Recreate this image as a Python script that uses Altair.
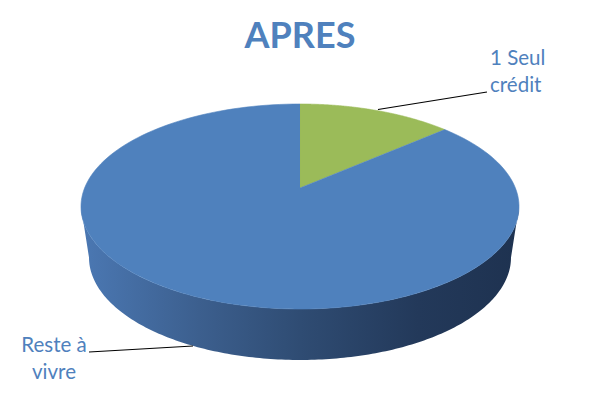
import altair as alt
import pandas as pd
import numpy as np

# ---- data ----
title_text = "APRES"
labels = ["1 Seul crédit", "Reste à vivre"]
values = [11.5, 88.5]
colors = ["#9BBB59", "#4F81BD"]

# ---- layout / style constants ----
W, H = 584, 384
RX, RY = 219, 102.5      # top ellipse radii (px)
RXB = 211                # bottom ellipse (perspective) radius
DEPTH = 51               # wall height (px)
VOFF = 18.5              # apex offset above ellipse centre
N = 180
TXT = "#4F81BD"
FONT = "Lato"

total = float(sum(values))
cum = np.cumsum([0.0] + values) / total
slices = pd.DataFrame({"label": labels, "start": cum[:-1], "end": cum[1:]})
steps = pd.DataFrame({"k": list(range(N + 2))})
poly = slices.merge(steps, how="cross")

xsc = alt.Scale(domain=[-292, 292], range=[0, W])
ysc = alt.Scale(domain=[-185.5, 198.5], range=[H, 0])
X = lambda f: alt.X(f, type="quantitative", scale=xsc, axis=None)
Y = lambda f: alt.Y(f, type="quantitative", scale=ysc, axis=None)

# side wall (front half)
wall = alt.Chart(pd.DataFrame({"k": list(range(2 * N + 2))})).transform_calculate(
    th=f"datum.k <= {N} ? 1.5*PI - PI*datum.k/{N} : 0.5*PI + PI*(datum.k-{N}-1)/{N}",
).transform_calculate(
    x=f"datum.k <= {N} ? {RX}*sin(datum.th) : {RXB}*sin(datum.th)",
    y=f"datum.k <= {N} ? {RY}*cos(datum.th) : {RY}*cos(datum.th) - {DEPTH}",
).mark_line(
    fill=alt.Gradient(
        gradient="linear", x1=0, x2=1, y1=0, y2=0,
        stops=[
            alt.GradientStop(color="#4B78B3", offset=0),
            alt.GradientStop(color="#3C5F8E", offset=0.27),
            alt.GradientStop(color="#2F4C73", offset=0.5),
            alt.GradientStop(color="#23395A", offset=0.77),
            alt.GradientStop(color="#1E3250", offset=1),
        ],
    ),
    strokeWidth=0,
).encode(x=X("x:Q"), y=Y("y:Q"), order="k:Q")

# top face slices
top = alt.Chart(poly).transform_calculate(
    f=f"datum.k == 0 ? 0 : datum.start + (datum.end - datum.start)*(datum.k-1)/{N}",
).transform_calculate(
    x=f"datum.k == 0 ? 0 : {RX}*sin(2*PI*datum.f)",
    y=f"datum.k == 0 ? {VOFF} : {RY}*cos(2*PI*datum.f)",
).mark_line(strokeWidth=0.6).encode(
    x=X("x:Q"), y=Y("y:Q"), order="k:Q", detail="label:N",
    fill=alt.Fill("label:N", scale=alt.Scale(domain=labels, range=colors), legend=None),
    color=alt.Color("label:N", scale=alt.Scale(domain=labels, range=colors), legend=None),
)

# leader lines
lead1 = alt.Chart(pd.DataFrame({"a": [0]})).mark_rule(color="#000000", strokeWidth=1.2).encode(
    x=alt.value(370), y=alt.value(101.5), x2=alt.value(479), y2=alt.value(84))
lead2 = alt.Chart(pd.DataFrame({"a": [0]})).mark_rule(color="#000000", strokeWidth=1.2).encode(
    x=alt.value(81), y=alt.value(344), x2=alt.value(185), y2=alt.value(338))

lab_df = pd.DataFrame({"label": labels})
lab_df["txt"] = [s.rsplit(" ", 1)[0] + "\n" + s.rsplit(" ", 1)[1] for s in labels]

lab1 = alt.Chart(lab_df).transform_filter(alt.datum.label == labels[0]).mark_text(
    font=FONT, fontSize=20.5, color=TXT, align="left", baseline="alphabetic",
    lineBreak="\n", lineHeight=27,
).encode(x=alt.value(482), y=alt.value(57), text="txt:N")
lab2 = alt.Chart(lab_df).transform_filter(alt.datum.label == labels[1]).mark_text(
    font=FONT, fontSize=20.5, color=TXT, align="center", baseline="alphabetic",
    lineBreak="\n", lineHeight=27,
).encode(x=alt.value(46), y=alt.value(344), text="txt:N")

ttl = alt.Chart(pd.DataFrame({"t": [title_text]})).mark_text(
    font=FONT, fontSize=36, fontWeight="bold", color=TXT, align="center", baseline="alphabetic",
).encode(x=alt.value(292), y=alt.value(39.5), text="t:N")

chart = alt.layer(wall, top, lead1, lead2, lab1, lab2, ttl).properties(
    width=W, height=H, autosize="none", padding=0,
).configure_view(stroke=None)

chart.save("out.html", embed_options={"renderer": "svg", "actions": False})
